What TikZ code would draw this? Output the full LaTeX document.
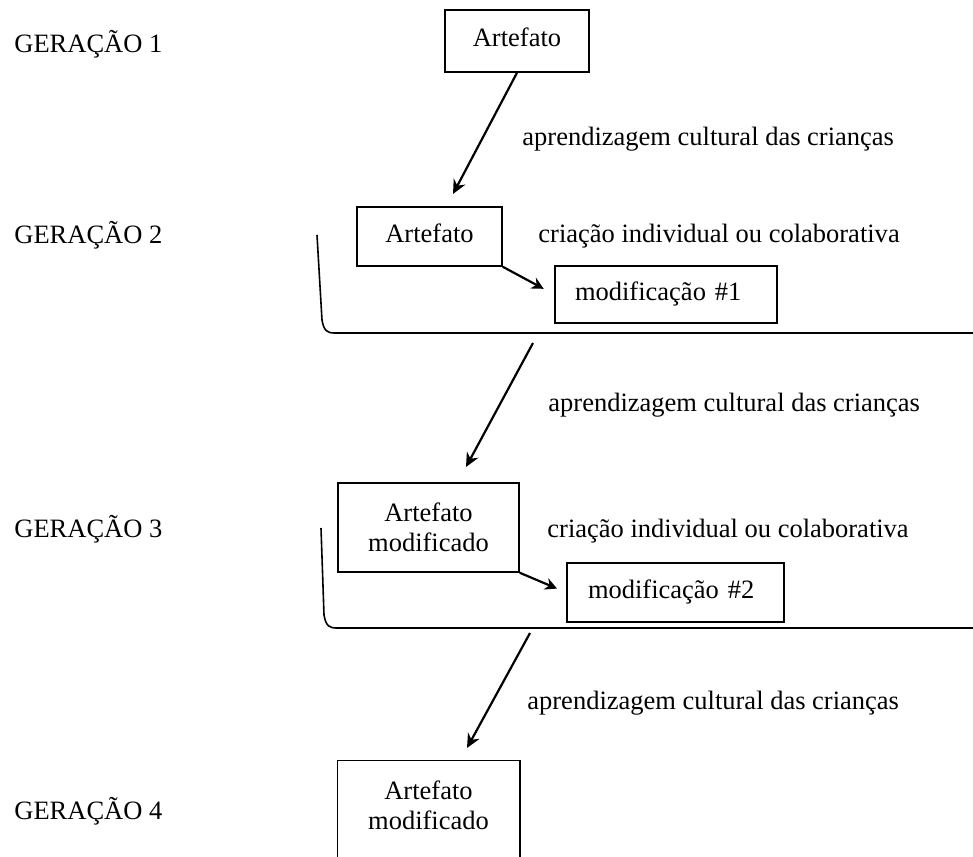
\documentclass[tikz,border=0pt]{standalone}
\usepackage{fontspec}
\setmainfont{Liberation Serif}
\usetikzlibrary{arrows.meta, positioning, calc}

\tikzset{
  artbox/.style={draw, line width=0.75pt, minimum width=72.5pt, minimum height=29.5pt,
    text height=9pt, text depth=3pt, inner sep=0pt},
  modbox/.style={artbox, minimum height=28.5pt, inner xsep=10pt, text width=91pt, align=left},
  twobox/.style={draw, line width=0.75pt, align=center, minimum width=90.5pt,
    minimum height=44.5pt, inner sep=0pt},
  genlabel/.style={anchor=base west, inner sep=0pt},
  steplabel/.style={anchor=base west, inner sep=0pt},
  learnarrow/.style={-{Stealth[length=7pt, width=6.5pt]}, line width=1.1pt},
  makearrow/.style={-{Stealth[length=6pt, width=6pt]}, line width=1.1pt, shorten >=6pt},
  bracket/.style={line width=0.8pt, line join=round}
}

\begin{document}
\begin{tikzpicture}[x=0.5pt, y=-0.5pt, every node/.style={font=\fontsize{13.25}{15}\selectfont}]
    \useasboundingbox (0,0) rectangle (973,856);
    \clip (0,0) rectangle (973,856);

    % Generations
    \node[genlabel] (gen1) at (14,53) {GERAÇÃO 1};
    \node[genlabel] (gen2) at (14,243) {GERAÇÃO 2};
    \node[genlabel] (gen3) at (14,537) {GERAÇÃO 3};
    \node[genlabel] (gen4) at (14,819) {GERAÇÃO 4};

    % Generation 1
    \node[artbox, minimum width=72pt, minimum height=31pt] (art1) at (517,41) {Artefato};
    \coordinate (tip1) at (453,194);
    \draw[learnarrow] (art1.south) -- (tip1);
    \node[steplabel] (learn1) at (522,145) {aprendizagem cultural das crianças};

    % Generation 2
    \node[artbox] (art2) at (429.5,236.5) {Artefato};
    \node[steplabel] (make1) at (538,242) {criação individual ou colaborativa};
    \node[modbox] (mod1) at (666,294.5) {modificação \#1};
    \draw[makearrow] (art2.south east) -- (mod1.west);
    \draw[bracket] (317,235) -- (322,320) .. controls (324,331) and (327,333) .. (335,333) -- (973,333);

    % Generation 3
    \coordinate (from2) at (533,343);
    \coordinate (tip2) at (466,467);
    \draw[learnarrow] (from2) -- (tip2);
    \node[steplabel] (learn2) at (548,411) {aprendizagem cultural das crianças};
    \node[twobox] (art3) at (428.5,527.5) {Artefato\\modificado};
    \node[steplabel] (make2) at (547,537) {criação individual ou colaborativa};
    \node[modbox, minimum height=29.5pt, inner xsep=10.5pt, text width=87.5pt] (mod2) at (675.5,592.5) {modificação \#2};
    \draw[makearrow, shorten >=5pt] (art3.south east) -- (mod2.west);
    \draw[bracket] (321,528) -- (324,615) .. controls (326,626) and (329,628) .. (337,628) -- (973,628);

    % Generation 4
    \coordinate (from3) at (530,633);
    \coordinate (tip3) at (467,748);
    \draw[learnarrow] (from3) -- (tip3);
    \node[steplabel] (learn3) at (527,709) {aprendizagem cultural das crianças};
    \node[twobox, draw=none] (art4) at (428.5,805.5) {Artefato\\modificado};
    \draw[line width=0.75pt] ([yshift=-10pt]art4.south west) -- (art4.north west)
        -- (art4.north east) -- ([yshift=-10pt]art4.south east);
\end{tikzpicture}
\end{document}
